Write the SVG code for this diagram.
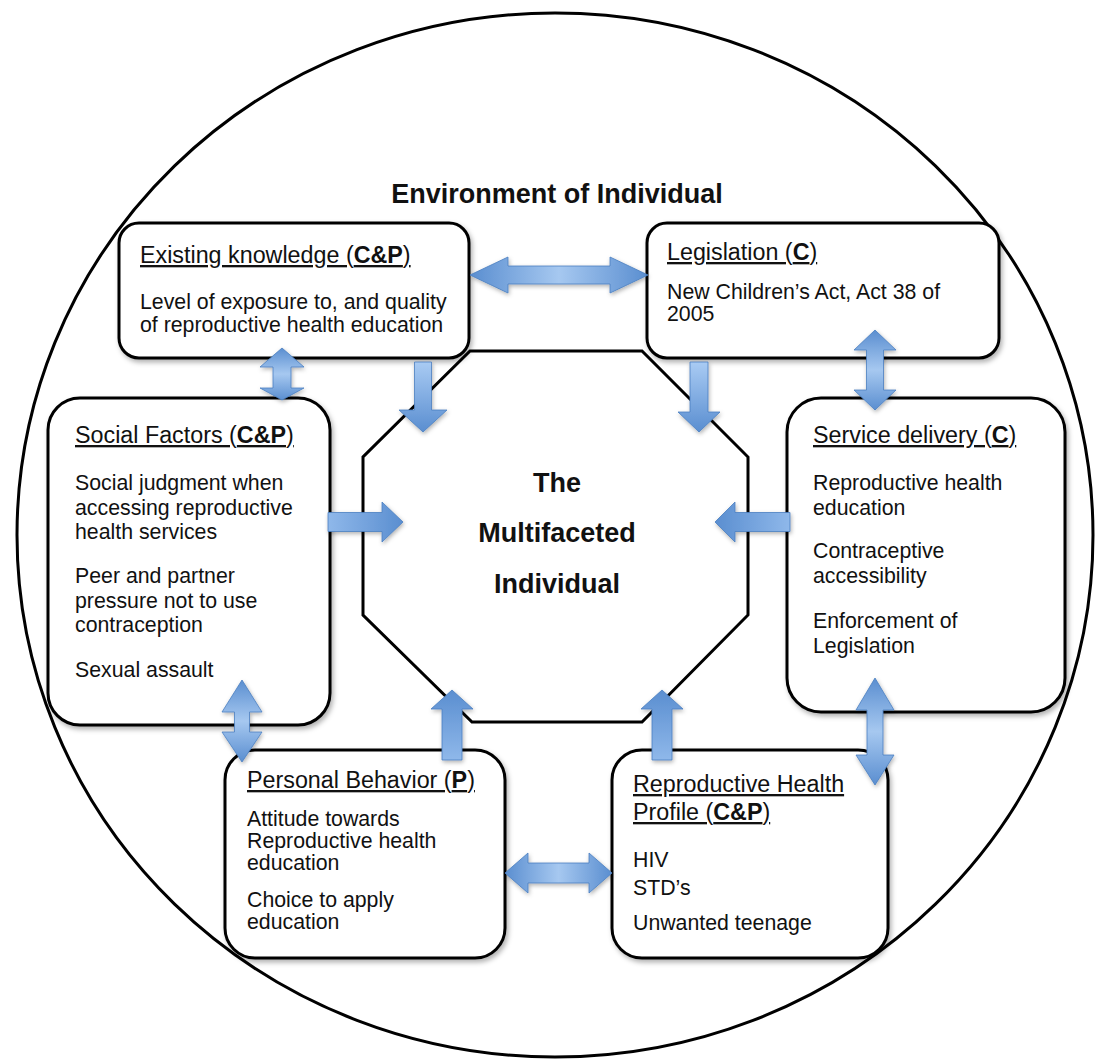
<svg xmlns="http://www.w3.org/2000/svg" width="1096" height="1061" viewBox="0 0 1096 1061">
<defs>
<style>
text{font-family:"Liberation Sans",Arial,sans-serif;fill:#111}
.t{font-size:23.3px;text-decoration:underline}
.b{font-size:21.3px}
.c{font-size:27px;font-weight:bold;text-anchor:middle}
.bold{font-weight:bold}
.box{fill:#fff;stroke:#000;stroke-width:3;filter:url(#sh)}
.arr{stroke:#4a7fc0;stroke-width:0.8;filter:url(#ash)}
</style>
<filter id="sh" x="-10%" y="-10%" width="120%" height="120%">
<feDropShadow dx="2" dy="3" stdDeviation="2.5" flood-color="#000" flood-opacity="0.3"/>
</filter>
<filter id="ash" x="-20%" y="-20%" width="140%" height="140%">
<feDropShadow dx="1" dy="2" stdDeviation="2" flood-color="#000" flood-opacity="0.3"/>
</filter>
<linearGradient id="gh2" x1="0" y1="0" x2="1" y2="0">
<stop offset="0" stop-color="#5a8ed0"/><stop offset="0.5" stop-color="#a6c8f0"/><stop offset="1" stop-color="#5a8ed0"/>
</linearGradient>
<linearGradient id="gv2" x1="0" y1="0" x2="0" y2="1">
<stop offset="0" stop-color="#5a8ed0"/><stop offset="0.5" stop-color="#a6c8f0"/><stop offset="1" stop-color="#5a8ed0"/>
</linearGradient>
<linearGradient id="gdown" x1="0" y1="0" x2="0" y2="1">
<stop offset="0" stop-color="#a9cbf3"/><stop offset="1" stop-color="#5a8ed0"/>
</linearGradient>
<linearGradient id="gup" x1="0" y1="1" x2="0" y2="0">
<stop offset="0" stop-color="#8fb8ea"/><stop offset="1" stop-color="#5a8ed0"/>
</linearGradient>
<linearGradient id="gright" x1="0" y1="0" x2="1" y2="0">
<stop offset="0" stop-color="#8fb8ea"/><stop offset="1" stop-color="#5a8ed0"/>
</linearGradient>
<linearGradient id="gleft" x1="1" y1="0" x2="0" y2="0">
<stop offset="0" stop-color="#8fb8ea"/><stop offset="1" stop-color="#5a8ed0"/>
</linearGradient>
</defs>
<rect width="1096" height="1061" fill="#fff"/>

<g id="environment">
<ellipse cx="555" cy="535" rx="538" ry="522" fill="none" stroke="#000" stroke-width="3"/>
<text x="557" y="203" class="c">Environment of Individual</text>
</g>

<g id="individual">
<polygon points="470,351 642,351 748,457 748,615 642,722 472,722 363,615 363,457" fill="#fff" stroke="#000" stroke-width="3"/>
<text x="557" y="492" class="c">The</text>
<text x="557" y="542" class="c">Multifaceted</text>
<text x="557" y="593" class="c">Individual</text>
</g>

<g id="existing-knowledge">
<rect x="119" y="223" width="350" height="135" rx="20" class="box"/>
<text x="140" y="263" class="t">Existing knowledge (<tspan class="bold">C&amp;P</tspan>)</text>
<text x="140" y="309" class="b">Level of exposure to, and quality</text>
<text x="140" y="332" class="b">of reproductive health education</text>
</g>

<g id="legislation">
<rect x="647" y="223" width="352" height="135" rx="20" class="box"/>
<text x="667" y="260" class="t">Legislation (<tspan class="bold">C</tspan>)</text>
<text x="667" y="299" class="b">New Children’s Act, Act 38 of</text>
<text x="667" y="321" class="b">2005</text>
</g>

<g id="social-factors">
<rect x="48" y="398" width="282" height="327" rx="32" class="box"/>
<text x="75" y="443" class="t">Social Factors (<tspan class="bold">C&amp;P</tspan>)</text>
<text x="75" y="490" class="b">Social judgment when</text>
<text x="75" y="515" class="b">accessing reproductive</text>
<text x="75" y="539" class="b">health services</text>
<text x="75" y="583" class="b">Peer and partner</text>
<text x="75" y="608" class="b">pressure not to use</text>
<text x="75" y="632" class="b">contraception</text>
<text x="75" y="677" class="b">Sexual assault</text>
</g>

<g id="service-delivery">
<rect x="787" y="398" width="278" height="314" rx="34" class="box"/>
<text x="813" y="443" class="t">Service delivery (<tspan class="bold">C</tspan>)</text>
<text x="813" y="490" class="b">Reproductive health</text>
<text x="813" y="515" class="b">education</text>
<text x="813" y="558" class="b">Contraceptive</text>
<text x="813" y="583" class="b">accessibility</text>
<text x="813" y="628" class="b">Enforcement of</text>
<text x="813" y="653" class="b">Legislation</text>
</g>

<g id="personal-behavior">
<rect x="225" y="750" width="280" height="208" rx="30" class="box"/>
<text x="247" y="788" class="t">Personal Behavior (<tspan class="bold">P</tspan>)</text>
<text x="247" y="826" class="b">Attitude towards</text>
<text x="247" y="848" class="b">Reproductive health</text>
<text x="247" y="870" class="b">education</text>
<text x="247" y="907" class="b">Choice to apply</text>
<text x="247" y="929" class="b">education</text>
</g>

<g id="reproductive-health-profile">
<rect x="612" y="750" width="276" height="208" rx="30" class="box"/>
<text x="633" y="792" class="t">Reproductive Health</text>
<text x="633" y="820" class="t">Profile (<tspan class="bold">C&amp;P</tspan>)</text>
<text x="633" y="867" class="b">HIV</text>
<text x="633" y="895" class="b">STD’s</text>
<text x="633" y="930" class="b">Unwanted teenage</text>
</g>

<g id="connectors">
<path class="arr" fill="url(#gh2)" d="M470,275 L508,257 L508,266 L610,266 L610,257 L648,275 L610,293 L610,284 L508,284 L508,293 Z"/>
<path class="arr" fill="url(#gh2)" d="M505,873 L528,853 L528,863 L589,863 L589,853 L612,873 L589,893 L589,883 L528,883 L528,893 Z"/>
<path class="arr" fill="url(#gv2)" d="M282,348 L304,367 L291,367 L291,388 L304,388 L282,400 L260,388 L273,388 L273,367 L260,367 Z"/>
<path class="arr" fill="url(#gv2)" d="M875,330 L896,350 L883.5,350 L883.5,390 L896,390 L875,410 L854,390 L866.5,390 L866.5,350 L854,350 Z"/>
<path class="arr" fill="url(#gv2)" d="M242,680 L262,712 L249.5,712 L249.5,732 L262,732 L242,762 L222,732 L234.5,732 L234.5,712 L222,712 Z"/>
<path class="arr" fill="url(#gv2)" d="M875,678 L894,710 L883,710 L883,755 L894,755 L875,785 L856,755 L867,755 L867,710 L856,710 Z"/>
<path class="arr" fill="url(#gdown)" d="M414.5,362 L431.5,362 L431.5,410 L447,410 L423,432 L399,410 L414.5,410 Z"/>
<path class="arr" fill="url(#gdown)" d="M690,362 L708,362 L708,412 L720,412 L699,432 L678,412 L690,412 Z"/>
<path class="arr" fill="url(#gup)" d="M442,760 L462,760 L462,709 L473,709 L452,690 L431,709 L442,709 Z"/>
<path class="arr" fill="url(#gup)" d="M652,760 L672,760 L672,709 L683,709 L662,690 L641,709 L652,709 Z"/>
<path class="arr" fill="url(#gright)" d="M328,512.5 L382,512.5 L382,502 L403,522 L382,542 L382,531.5 L328,531.5 Z"/>
<path class="arr" fill="url(#gleft)" d="M790,512.5 L735,512.5 L735,502 L715,522 L735,542 L735,531.5 L790,531.5 Z"/>
</g>
</svg>
